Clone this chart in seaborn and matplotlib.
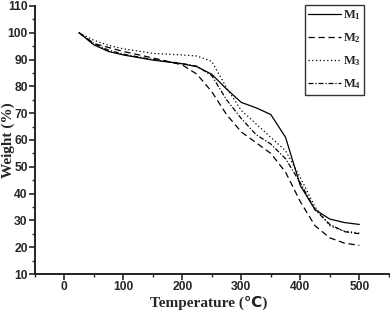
import matplotlib
matplotlib.use("Agg")
import matplotlib.pyplot as plt
from matplotlib.ticker import MultipleLocator
import seaborn as sns
import pandas as pd

# TGA curves
temperature = [25, 50, 75, 100, 150, 200, 225, 250, 275, 300, 325, 350, 375, 400, 425, 450, 475, 500]
m1 = [100, 95.5, 93.0, 91.7, 89.8, 88.4, 87.3, 84.5, 79.0, 74.0, 72.0, 69.5, 61.0, 43.0, 34.0, 30.5, 29.2, 28.5]
m2 = [100, 96.0, 94.5, 93.0, 90.6, 88.0, 84.5, 78.0, 69.5, 63.0, 59.0, 55.0, 48.0, 37.0, 28.0, 23.5, 21.5, 20.7]
m3 = [100, 97.2, 95.3, 94.0, 92.3, 91.7, 91.3, 89.3, 79.5, 71.0, 66.0, 61.0, 56.0, 46.0, 35.0, 28.0, 26.0, 25.3]
m4 = [100, 96.0, 93.5, 92.0, 90.0, 88.5, 87.5, 84.0, 75.0, 68.0, 62.0, 58.5, 53.0, 44.0, 34.0, 28.5, 25.8, 25.0]
series_names = ["M1", "M2", "M3", "M4"]
legend_labels = [r"$\mathbf{M_1}$", r"$\mathbf{M_2}$", r"$\mathbf{M_3}$", r"$\mathbf{M_4}$"]

df = pd.concat([
    pd.DataFrame({"Temperature": temperature, "Weight": vals, "Sample": name})
    for name, vals in zip(series_names, [m1, m2, m3, m4])
])

sns.set_style("ticks")
plt.rcParams["font.family"] = ["Liberation Sans", "DejaVu Sans"]
plt.rcParams["font.weight"] = "bold"
plt.rcParams["mathtext.fontset"] = "custom"
plt.rcParams["mathtext.rm"] = "Liberation Serif:bold"
plt.rcParams["mathtext.bf"] = "Liberation Serif:bold"

fig = plt.figure(figsize=(3.9, 3.1), dpi=100)
ax = fig.add_axes([0.089, 0.116, 0.908, 0.865])

dash_map = {"M1": "", "M2": (5, 3), "M3": (1, 2), "M4": (4, 1.5, 1, 1.5)}
sns.lineplot(data=df, x="Temperature", y="Weight", hue="Sample", style="Sample",
             palette=["black"] * 4, dashes=dash_map, linewidth=0.9, ax=ax, legend=True)

ax.set_xlim(-50, 550)
ax.set_ylim(10, 110)
ax.xaxis.set_minor_locator(MultipleLocator(50))
ax.yaxis.set_major_locator(MultipleLocator(10))
ax.yaxis.set_minor_locator(MultipleLocator(5))
ax.set_xticks([0, 100, 200, 300, 400, 500])
for s in ["top", "right"]:
    ax.spines[s].set_visible(False)
for s in ["left", "bottom"]:
    ax.spines[s].set_linewidth(1.4)
    ax.spines[s].set_color("#222222")
ax.tick_params(which="major", length=4, width=1.2, labelsize=8.7, pad=1.0)
ax.tick_params(which="minor", length=2, width=1.0)
for lab in ax.get_xticklabels() + ax.get_yticklabels():
    lab.set_fontweight("bold")

ax.set_xlabel("Temperature (℃)", family=["Liberation Serif", "DejaVu Sans"],
              fontweight="bold", fontsize=11, labelpad=0)
ax.set_ylabel("Weight (%)", family=["Liberation Serif", "DejaVu Sans"],
              fontweight="bold", fontsize=11)
ax.yaxis.set_label_coords(-0.057, 0.5)
ax.xaxis.set_label_coords(0.49, -0.08)

handles, _ = ax.get_legend_handles_labels()
leg = ax.legend(handles[-4:], legend_labels,
                loc="upper right", bbox_to_anchor=(364 / 390, 1 - 5 / 310),
                bbox_transform=fig.transFigure, frameon=True, fancybox=False,
                edgecolor="black", handlelength=2.6, handletextpad=0.15,
                borderpad=0.25, labelspacing=0.75, fontsize=9,
                borderaxespad=0)
leg.get_frame().set_linewidth(1.0)

fig.savefig("out.png", dpi=100)
